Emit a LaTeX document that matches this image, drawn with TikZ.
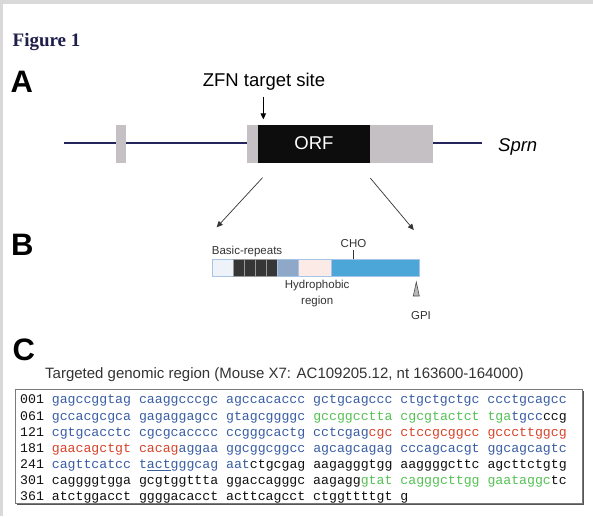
\documentclass[tikz,border=0pt]{standalone}
\usepackage{fontspec}
\setmainfont{Liberation Sans}
\newfontfamily\seqfont{Liberation Mono}
\newfontfamily\figfont{Liberation Serif}
\usetikzlibrary{positioning,arrows.meta}
\definecolor{pagegray}{HTML}{D9D9D9}
\definecolor{navy}{HTML}{25255E}
\definecolor{exongray}{HTML}{C4C0C4}
\definecolor{orfblack}{HTML}{0D0D0D}
\definecolor{seglight}{HTML}{EEF3FA}
\definecolor{segdark}{HTML}{363636}
\definecolor{segsteel}{HTML}{8FA8C8}
\definecolor{segpink}{HTML}{FBEAE5}
\definecolor{segblue}{HTML}{4DA6D8}
\definecolor{segline}{HTML}{A6C4E6}
\definecolor{labelgray}{HTML}{333333}
\definecolor{seqblue}{HTML}{3A5EA4}
\definecolor{seqred}{HTML}{D8442B}
\definecolor{seqgreen}{HTML}{55C255}
\definecolor{seqblack}{HTML}{111111}
\definecolor{boxline}{HTML}{7A7A7A}
\definecolor{boxshadow}{HTML}{555555}
\newcommand\seqb[1]{\textcolor{seqblue}{#1}}
\newcommand\seqr[1]{\textcolor{seqred}{#1}}
\newcommand\seqg[1]{\textcolor{seqgreen}{#1}}
\newcommand\seqk[1]{\textcolor{seqblack}{#1}}
\begin{document}
\begin{tikzpicture}[x=1pt,y=-1pt,
 exon/.style={rectangle,fill=exongray,inner sep=0pt,minimum height=38pt,anchor=north west},
 seg/.style={rectangle,draw=segline,line width=0.5pt,inner sep=0pt,minimum height=16.4pt,anchor=north west},
 lbl/.style={inner sep=0pt,text=labelgray,font=\fontsize{11.5}{15.3}\selectfont},
 panel/.style={inner sep=0pt,anchor=base west,font=\fontsize{31}{32}\selectfont\bfseries},
 big/.style={inner sep=0pt,font=\fontsize{18.5}{20}\selectfont},
 seqline/.style={inner sep=0pt,anchor=base west,font=\seqfont\fontsize{13.2}{15}\selectfont},
 tip/.style={-{Triangle[length=6pt,width=5.5pt]}}]
 \useasboundingbox (0,0) rectangle (593,516);
 \fill[pagegray] (0,0) rectangle (593,516);
 \fill[white] (3,4) rectangle (593,516);
 \node[inner sep=0pt,anchor=base west,text=navy!80!black,font=\figfont\fontsize{19}{20}\selectfont\bfseries] (fig) at (12.5,46.5) {Figure 1};
 % A: gene
 \node[panel] (pa) at (10.5,92.5) {A};
 \coordinate (geneL) at (64.3,143.3);
 \coordinate (geneR) at (481.6,143.3);
 \draw[navy,line width=2.2pt] (geneL) -- (geneR);
 \node[exon,minimum width=10.5pt] (ex1) at (115.5,124.3) {};
 \node[exon,minimum width=11pt] (utr5) at (246.5,124.3) {};
 \node[exon,minimum width=112.5pt,fill=orfblack,text=white,font=\fontsize{18.5}{20}\selectfont] (orf) at (257.5,124.3) {ORF};
 \node[exon,minimum width=62.5pt] (utr3) at (370,124.3) {};
 \node[big,anchor=base west,font=\fontsize{18.5}{20}\selectfont\itshape] (sprn) at (498,151) {Sprn};
 \node[big,anchor=base] (zfn) at (264,86.5) {ZFN target site};
 \coordinate (cut) at (263.3,124.3);
 \draw[tip,line width=0.9pt,shorten <=6pt,shorten >=5pt] (zfn.south -| cut) -- (cut);
 % B: protein
 \node[panel] (pb) at (11,255.5) {B};
 \node[seg,minimum width=21pt,fill=seglight] (s1) at (211.7,259.3) {};
 \foreach \i in {0,...,3}
  \node[seg,minimum width=11.15pt,fill=segdark,draw=gray!80] (r\i) at (232.7+11.15*\i,259.3) {};
 \node[seg,minimum width=21pt,fill=segsteel] (s2) at (277.3,259.3) {};
 \node[seg,minimum width=32.7pt,fill=segpink] (s3) at (298.3,259.3) {};
 \node[seg,minimum width=88pt,fill=segblue] (s4) at (331,259.3) {};
 \draw[tip,line width=0.7pt,black!80] ([shift={(5,15)}]orf.south west) -- ([shift={(5,-32)}]s1.north west);
 \draw[tip,line width=0.7pt,black!80] ([shift={(0,15.5)}]orf.south east) -- ([shift={(-5.7,-29.3)}]s4.north east);
 \node[lbl,anchor=base west] (rep) at (211.7,254.5) {Basic-repeats};
 \node[lbl,anchor=base] (cho) at (353.5,247.5) {CHO};
 \draw[labelgray,line width=0.6pt] ([yshift=-2.5pt]cho.base) -- (cho.base |- s4.north);
 \node[lbl,align=center,anchor=north] (hyd) at (317.2,280.2) {Hydrophobic\\region};
 \filldraw[fill=gray!55,draw=black!70,line width=0.6pt] (416.3,282) -- (419.3,296) -- (413.3,296) -- cycle;
 \node[lbl,anchor=base] (gpi) at (421,319) {GPI};
 % C: sequence
 \node[panel] (pc) at (12.5,360) {C};
 \node[inner sep=0pt,anchor=base west,text=labelgray,font=\fontsize{15}{17}\selectfont] (title) at (45,378) {Targeted genomic region (Mouse X7: AC109205.12, nt 163600-164000)};
 \fill[boxshadow] (16.5,391.2) rectangle (583.5,504.5);
 \filldraw[fill=white,draw=boxline,line width=0.8pt] (15,389.7) rectangle (582,503);
 \node[seqline] (l001) at (20,403.8) {\seqk{001} \seqb{gagccggtag caaggcccgc agccacaccc gctgcagccc ctgctgctgc ccctgcagcc}};
 \node[seqline] (l061) at (20,420) {\seqk{061} \seqb{gccacgcgca gagaggagcc gtagcggggc} \seqg{gccggcctta cgcgtactct tga}\seqb{tgcc}\seqk{ccg}};
 \node[seqline] (l121) at (20,436.2) {\seqk{121} \seqb{cgtgcacctc cgcgcacccc ccgggcactg cctcgag}\seqr{cgc ctccgcggcc gcccttggcg}};
 \node[seqline] (l181) at (20,452.4) {\seqk{181} \seqr{gaacagctgt cacag}\seqb{aggaa ggcggcggcc agcagcagag cccagcacgt ggcagcagtc}};
 \node[seqline] (l241) at (20,468.6) {\seqk{241} \seqb{cagttcatcc t\underline{act}gggcag aat}\seqk{ctgcgag aagagggtgg aaggggcttc agcttctgtg}};
 \node[seqline] (l301) at (20,484.8) {\seqk{301} \seqk{caggggtgga gcgtggttta ggaccagggc aagagg}\seqg{gtat cagggcttgg gaataggc}\seqk{tc}};
 \node[seqline] (l361) at (20,500.5) {\seqk{361 atctggacct ggggacacct acttcagcct ctggttttgt g}};
\end{tikzpicture}
\end{document}
